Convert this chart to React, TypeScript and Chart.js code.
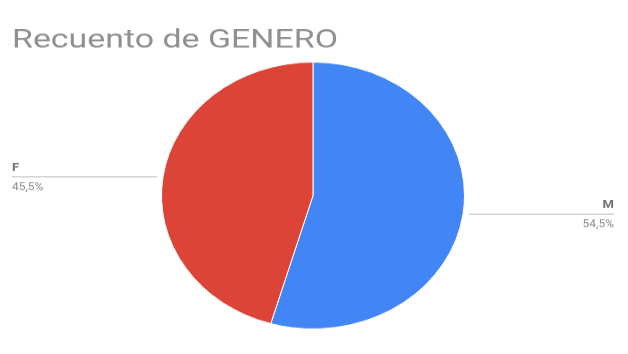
import React, { useEffect, useRef } from "react";
import { Chart, registerables } from "chart.js";

Chart.register(...registerables);

const title = "Recuento de GENERO";
const categories = ["M", "F"];
const values = [54.5, 45.5];
const percentLabels = ["54,5%", "45,5%"];
const colors = ["#4285F4", "#DB4437"];

const labelPlugin = {
  id: "sideLabels",
  afterDraw(chart: any) {
    const ctx = chart.ctx;
    const W = chart.width;
    ctx.save();
    ctx.font = "30px Roboto, Arial, sans-serif";
    ctx.fillStyle = "#909090";
    ctx.textBaseline = "alphabetic";
    ctx.textAlign = "left";
    ctx.save();
    ctx.translate(12, 54);
    ctx.scale(1.13, 1);
    ctx.fillText(title, 0, 0);
    ctx.restore();
    const meta = chart.getDatasetMeta(0);
    meta.data.forEach((arc: any, i: number) => {
      const p = arc.getProps(["x", "y", "startAngle", "endAngle", "outerRadius"], true);
      const mid = (p.startAngle + p.endAngle) / 2;
      const px = p.x + Math.cos(mid) * p.outerRadius;
      const py = p.y + Math.sin(mid) * p.outerRadius;
      const right = Math.cos(mid) >= 0;
      const endX = right ? W - 14 : 12;
      ctx.strokeStyle = "#d0d0d0";
      ctx.lineWidth = 1.5;
      ctx.beginPath();
      ctx.moveTo(px + (right ? 6 : -6), py);
      ctx.lineTo(endX, py);
      ctx.stroke();
      ctx.fillStyle = "#6f6f6f";
      ctx.font = "bold 13px Roboto, Arial, sans-serif";
      ctx.textAlign = right ? "right" : "left";
      ctx.fillText(categories[i], endX, py - 7);
      ctx.font = "12px Roboto, Arial, sans-serif";
      ctx.fillStyle = "#8a8a8a";
      ctx.fillText(percentLabels[i], endX, py + 15);
    });
    ctx.restore();
  },
};

export default function App() {
  const ref = useRef<HTMLCanvasElement>(null);
  useEffect(() => {
    document.body.style.margin = "0";
    const canvas = ref.current!;
    const chart = new Chart(canvas, {
      type: "pie",
      data: {
        labels: categories,
        datasets: [
          {
            data: values,
            backgroundColor: colors,
            borderColor: "#ffffff",
            borderWidth: 1,
          },
        ],
      },
      options: {
        responsive: false,
        animation: false,
        devicePixelRatio: 1,
        layout: { padding: { top: 70, bottom: 28, left: 161, right: 163 } },
        plugins: {
          legend: { display: false },
          tooltip: { enabled: false },
          title: { display: false },
        },
      },
      plugins: [labelPlugin],
    });
    return () => chart.destroy();
  }, []);
  return (
    <div style={{ width: 628, height: 354, background: "#fff", overflow: "hidden" }}>
      <canvas
        ref={ref}
        width={628}
        height={402}
        style={{ width: "628px", height: "354px", display: "block" }}
      />
    </div>
  );
}
